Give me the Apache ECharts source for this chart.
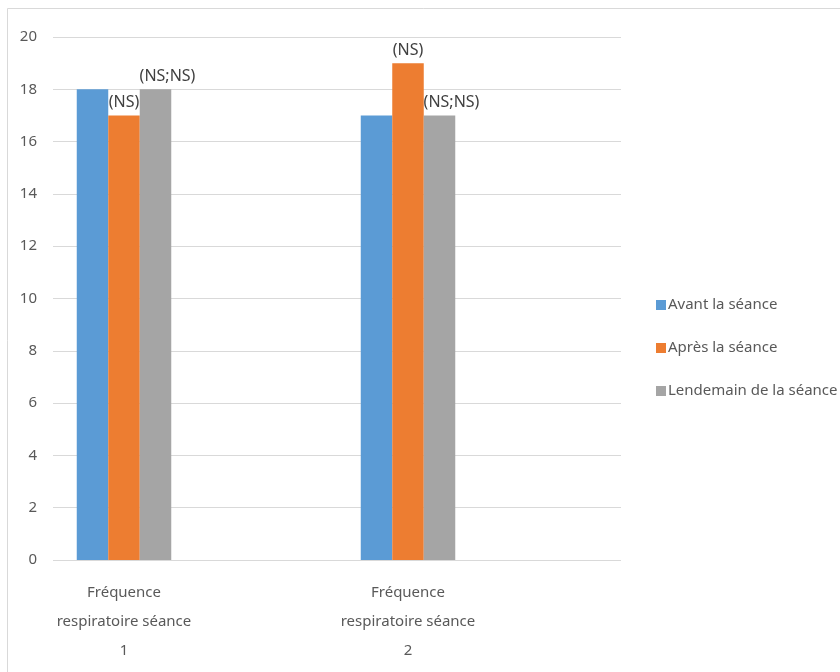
<!DOCTYPE html>
<html>
<head>
<meta charset="utf-8">
<script src="https://cdn.jsdelivr.net/npm/echarts@6/dist/echarts.min.js"></script>
<style>
html,body{margin:0;padding:0;background:#fff;}
#chart{width:840px;height:672px;}
</style>
</head>
<body>
<div id="chart"></div>
<script>
const categories = ['Fréquence\nrespiratoire séance\n1', 'Fréquence\nrespiratoire séance\n2'];
const seriesNames = ['Avant la séance', 'Après la séance', 'Lendemain de la séance'];
const avant = [18, 17];
const apres = [17, 19];
const lendemain = [18, 17];
const apresLabels = ['(NS)', '(NS)'];
const lendemainLabels = ['(NS;NS)', '(NS;NS)'];
const yMin = 0, yMax = 20, yStep = 2;

const colors = ['#5b9bd5', '#ed7d31', '#a5a5a5'];
const font = 'Noto Sans';

const chart = echarts.init(document.getElementById('chart'), null, {renderer: 'canvas'});

function labelFor(texts, offset) {
  return {
    show: true,
    position: 'top',
    distance: 5,
    offset: offset,
    color: '#404040',
    fontFamily: font,
    fontSize: 16,
    formatter: p => texts[p.dataIndex]
  };
}

const option = {
  backgroundColor: '#ffffff',
  animation: false,
  graphic: [
    {type: 'line', shape: {x1: 7.5, y1: 8.5, x2: 840, y2: 8.5}, style: {stroke: '#d9d9d9', lineWidth: 1}},
    {type: 'line', shape: {x1: 7.5, y1: 8.5, x2: 7.5, y2: 672}, style: {stroke: '#d9d9d9', lineWidth: 1}}
  ],
  legend: {
    orient: 'vertical',
    left: 651,
    top: 290,
    icon: 'rect',
    itemWidth: 10,
    itemHeight: 10,
    itemGap: 23,
    data: seriesNames,
    textStyle: {color: '#595959', fontFamily: font, fontSize: 15, lineHeight: 20, padding: [0, 0, 0, -3]}
  },
  grid: [
    {left: 53, width: 568, top: 37, bottom: 112, containLabel: false, outerBoundsMode: 'none'},
    {left: -18, width: 568, top: 37, bottom: 112, containLabel: false, outerBoundsMode: 'none'}
  ],
  xAxis: [
    {type: 'category', gridIndex: 0, data: categories, show: false},
    {
      type: 'category', gridIndex: 1, data: categories,
      axisLine: {show: false}, axisTick: {show: false},
      axisLabel: {color: '#595959', fontFamily: font, fontSize: 15, lineHeight: 29, margin: 18, interval: 0}
    }
  ],
  yAxis: [
    {
      type: 'value', gridIndex: 0, min: yMin, max: yMax, interval: yStep,
      axisLine: {show: false}, axisTick: {show: false},
      axisLabel: {color: '#595959', fontFamily: font, fontSize: 15, margin: 16},
      splitLine: {lineStyle: {color: '#d9d9d9', width: 1}}
    },
    {type: 'value', gridIndex: 1, min: yMin, max: yMax, interval: yStep, show: false, splitLine: {show: false}}
  ],
  series: [
    {name: seriesNames[0], type: 'bar', xAxisIndex: 1, yAxisIndex: 1, data: avant,
     barWidth: 31.5, barGap: '0%', itemStyle: {color: colors[0]}},
    {name: seriesNames[1], type: 'bar', xAxisIndex: 1, yAxisIndex: 1, data: apres,
     barWidth: 31.5, barGap: '0%', itemStyle: {color: colors[1]}, label: labelFor(apresLabels, [0, 0])},
    {name: seriesNames[2], type: 'bar', xAxisIndex: 1, yAxisIndex: 1, data: lendemain,
     barWidth: 31.5, barGap: '0%', itemStyle: {color: colors[2]}, label: labelFor(lendemainLabels, [12, 0])}
  ]
};
chart.setOption(option);
</script>
</body>
</html>
